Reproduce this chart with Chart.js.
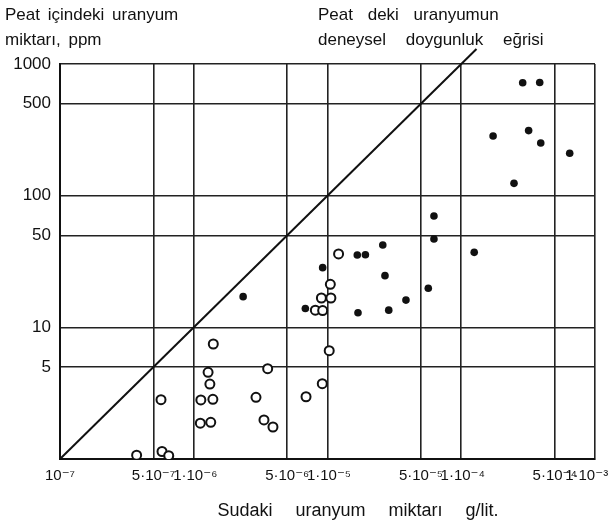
<!DOCTYPE html>
<html>
<head>
<meta charset="utf-8">
<script src="https://cdn.jsdelivr.net/npm/chart.js@4/dist/chart.umd.min.js"></script>
<style>
  body { margin: 0; background: #fff; }
  canvas { display: block; }
</style>
</head>
<body>
<canvas id="peat" width="613" height="527"></canvas>
<script>
// axis ticks
var xTicks = [1e-7, 5e-7, 1e-6, 5e-6, 1e-5, 5e-5, 1e-4, 5e-4, 1e-3];
var xTickLabels = ['10⁻⁷', '5·10⁻⁷', '\u20091·10⁻⁶', '5·10⁻⁶', '\u20091·10⁻⁵', '5·10⁻⁵', '\u20091·10⁻⁴', '5·10⁻⁴', '1·10⁻³\u2007\u2007'];
var yTicks = [1, 5, 10, 50, 100, 500, 1000];

// saturation curve (experimental)
var lineX = [1e-7, 1.3e-4];
var lineY = [1, 1300];

// open circles
var openX = [1.40e-6, 1.28e-6, 3.57e-6, 1.32e-6, 5.69e-7, 1.13e-6, 1.39e-6, 2.92e-6,
             1.12e-6, 1.34e-6, 3.35e-6, 3.91e-6, 3.74e-7, 5.79e-7, 6.50e-7, 1.21e-5,
             1.05e-5, 9.0e-6, 1.06e-5, 8.11e-6, 9.20e-6, 1.03e-5, 9.14e-6, 6.91e-6];
var openY = [7.47, 4.55, 4.85, 3.71, 2.82, 2.81, 2.84, 2.94,
             1.87, 1.90, 1.98, 1.75, 1.07, 1.14, 1.06, 36.1,
             21.2, 16.7, 16.7, 13.5, 13.4, 6.65, 3.73, 2.97];

// filled dots
var filledX = [2.34e-6, 6.83e-6, 9.20e-6, 1.67e-5, 1.92e-5, 2.59e-5, 2.69e-5, 1.69e-5,
               2.87e-5, 3.86e-5, 5.67e-5, 6.25e-5, 6.25e-5, 1.25e-4, 2.88e-4, 3.86e-4,
               1.73e-4, 3.19e-4, 3.93e-4, 6.47e-4, 2.48e-4];
var filledY = [17.1, 13.9, 28.4, 35.4, 35.6, 42.2, 24.7, 12.9,
               13.5, 16.1, 19.8, 70.1, 46.9, 37.1, 721, 724,
               284, 312, 251, 210, 124];

function pts(xs, ys) {
  return xs.map(function (x, i) { return {x: x, y: ys[i]}; });
}

var FONT = "'Liberation Sans', 'DejaVu Sans', sans-serif";
var INK = '#111';

var labels = {
  id: 'labels',
  afterDraw: function (chart) {
    var ctx = chart.ctx;
    ctx.save();
    ctx.fillStyle = INK;
    ctx.font = '17px ' + FONT;
    ctx.textAlign = 'left';
    ctx.textBaseline = 'alphabetic';
    ctx.wordSpacing = '3px';
    ctx.fillText('Peat içindeki uranyum', 5, 20);
    ctx.fillText('miktarı, ppm', 5, 45);
    ctx.wordSpacing = '10px';
    ctx.fillText('Peat deki uranyumun', 318, 20);
    ctx.wordSpacing = '15px';
    ctx.fillText('deneysel doygunluk eğrisi', 318, 45);
    ctx.font = '18px ' + FONT;
    ctx.textAlign = 'center';
    ctx.wordSpacing = '18px';
    ctx.fillText('Sudaki uranyum miktarı g/lit.', 358, 516);
    ctx.restore();
  }
};

new Chart(document.getElementById('peat'), {
  type: 'scatter',
  data: {
    datasets: [{
      type: 'line',
      data: pts(lineX, lineY),
      borderColor: INK,
      borderWidth: 2,
      pointRadius: 0,
      clip: false
    }, {
      data: pts(openX, openY),
      pointStyle: 'circle',
      pointRadius: 4.5,
      borderWidth: 2,
      borderColor: INK,
      backgroundColor: '#fff'
    }, {
      data: pts(filledX, filledY),
      pointStyle: 'circle',
      pointRadius: 3.8,
      borderWidth: 0,
      backgroundColor: INK
    }]
  },
  options: {
    responsive: false,
    animation: false,
    devicePixelRatio: 1,
    layout: { padding: { left: 0, right: 18, top: 64, bottom: 0 } },
    plugins: { legend: { display: false }, tooltip: { enabled: false } },
    scales: {
      x: {
        type: 'logarithmic',
        min: 1e-7,
        max: 1e-3,
        afterBuildTicks: function (s) { s.ticks = xTicks.map(function (v) { return {value: v}; }); },
        afterFit: function (s) { s.height = 68; s.paddingLeft = 0; s.paddingRight = 0; },
        ticks: {
          autoSkip: false,
          maxRotation: 0,
          minRotation: 0,
          padding: 8,
          color: INK,
          font: { family: FONT, size: 15 },
          callback: function (v, i) { return xTickLabels[i]; }
        },
        grid: { color: '#222', lineWidth: 1.6, drawTicks: false },
        border: { color: '#111', width: 2 }
      },
      y: {
        type: 'logarithmic',
        min: 1,
        max: 1000,
        afterBuildTicks: function (s) { s.ticks = yTicks.map(function (v) { return {value: v}; }); },
        afterFit: function (s) { s.width = 60; s.paddingTop = 0; s.paddingBottom = 0; },
        ticks: {
          padding: 9,
          color: INK,
          font: { family: FONT, size: 17 },
          callback: function (v) { return v === 1 ? '' : String(v); }
        },
        grid: { color: '#222', lineWidth: 1.6, drawTicks: false },
        border: { color: '#111', width: 2 }
      }
    }
  },
  plugins: [labels]
});
</script>
</body>
</html>
